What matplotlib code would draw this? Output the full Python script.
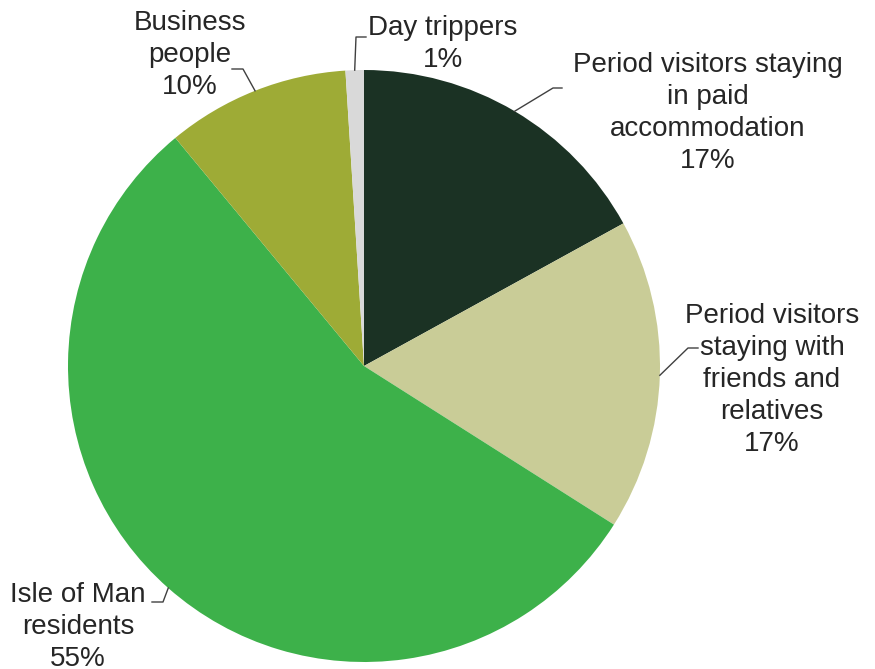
import numpy as np
import matplotlib
matplotlib.use("Agg")
import matplotlib.pyplot as plt

plt.rcParams['font.family'] = ['Liberation Sans', 'DejaVu Sans']

categories = [
    "Period visitors staying\nin paid\naccommodation",
    "Period visitors\nstaying with\nfriends and\nrelatives",
    "Isle of Man\nresidents",
    "Business\npeople",
    "Day trippers",
]
shares = [17, 17, 55, 10, 1]
colors = ["#1b3224", "#c9cc97", "#3db14a", "#9eab36", "#d9d9d9"]

W, H = 875, 669
CX, CY, R = 364, 366, 296

fig = plt.figure(figsize=(W / 100, H / 100), dpi=100)
ax = fig.add_axes([(CX - R) / W, (H - CY - R) / H, 2 * R / W, 2 * R / H])

wedges, _ = ax.pie(shares, colors=colors, startangle=90, counterclock=False,
                   radius=1, wedgeprops=dict(linewidth=0))
ax.set_xlim(-1, 1)
ax.set_ylim(-1, 1)
ax.set_aspect('equal')
ax.axis('off')


def px(x, y):
    """Pixel position (from top-left) to pie data coordinates."""
    return (x - CX) / R, (CY - y) / R


# label centre, line start and elbow (pixels) for each slice
layout = [
    dict(text=(708, 113), start=(562, 88), elbow=(553, 88)),
    dict(text=(772, 380), start=(698, 348), elbow=(688, 348)),
    dict(text=(78, 627), start=(152, 602), elbow=(163, 602)),
    dict(text=(190, 55), start=(232, 69), elbow=(243, 69)),
    dict(text=(443, 44), start=(366, 37), elbow=(356, 37)),
]

for w, cat, val, lay in zip(wedges, categories, shares, layout):
    mid = np.deg2rad((w.theta1 + w.theta2) / 2)
    edge = (np.cos(mid), np.sin(mid))
    tx, ty = px(*lay['text'])
    ax.text(tx, ty, f"{cat}\n{val}%", ha='center', va='center',
            fontsize=20, color='#262626', linespacing=1.31, clip_on=False)
    sx, sy = px(*lay['start'])
    ex, ey = px(*lay['elbow'])
    ax.plot([sx, ex, edge[0]], [sy, ey, edge[1]], color='#404040',
            linewidth=1.0, clip_on=False)

fig.savefig("out.png", dpi=100, facecolor='white')
